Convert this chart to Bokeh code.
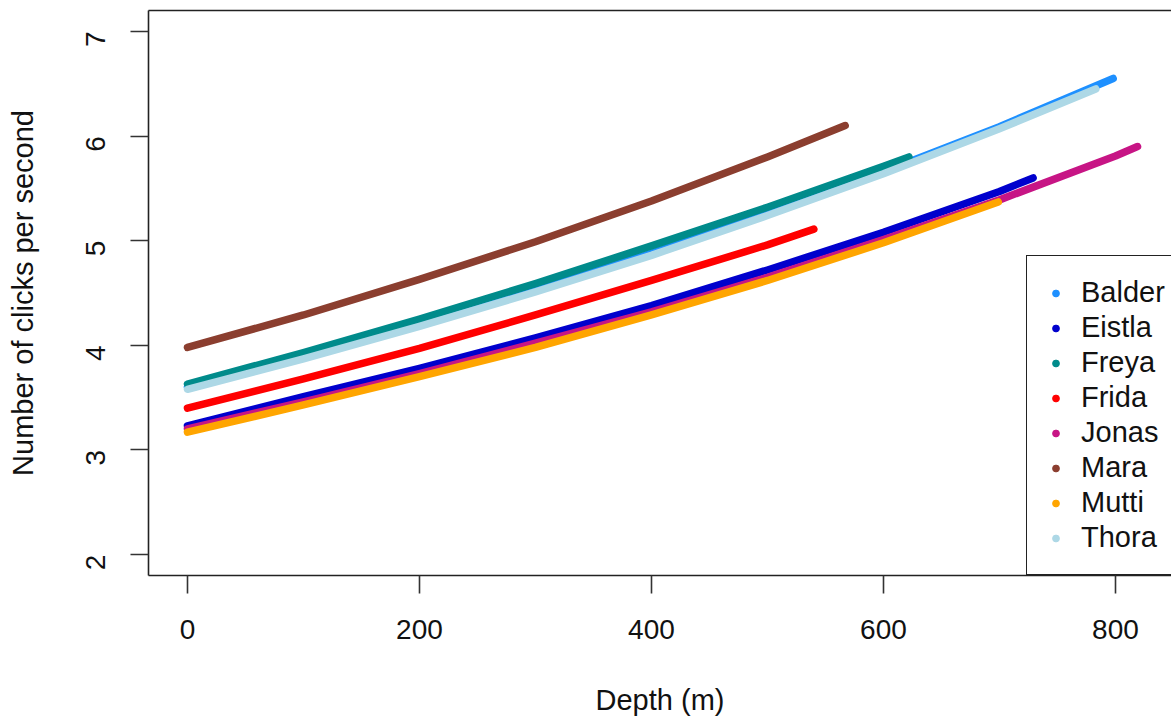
import math
from bokeh.plotting import figure
from bokeh.models import (ColumnDataSource, Legend, LegendItem, LinearAxis,
                          FixedTicker, Range1d)
from bokeh.embed import file_html
from bokeh.resources import INLINE

# ---- data ----
names = ["Balder", "Eistla", "Freya", "Frida", "Jonas", "Mara", "Mutti", "Thora"]
colors = ["#1E90FF", "#0000CD", "#008B8B", "#FF0000", "#C71585", "#8B3E2F", "#FFA500", "#ADD8E6"]

depth_balder = [0, 100, 200, 300, 400, 500, 600, 700, 798]
clicks_balder = [3.60, 3.89, 4.20, 4.53, 4.88, 5.26, 5.66, 6.09, 6.55]
depth_eistla = [0, 100, 200, 300, 400, 500, 600, 700, 729]
clicks_eistla = [3.23, 3.51, 3.78, 4.07, 4.38, 4.72, 5.08, 5.47, 5.60]
depth_freya = [0, 100, 200, 300, 400, 500, 600, 622]
clicks_freya = [3.63, 3.93, 4.25, 4.59, 4.95, 5.32, 5.71, 5.80]
depth_frida = [0, 100, 200, 300, 400, 500, 540]
clicks_frida = [3.40, 3.68, 3.97, 4.29, 4.62, 4.96, 5.11]
depth_jonas = [0, 100, 200, 300, 400, 500, 600, 700, 800, 819]
clicks_jonas = [3.20, 3.46, 3.73, 4.02, 4.32, 4.65, 5.01, 5.39, 5.81, 5.90]
depth_mara = [0, 100, 200, 300, 400, 500, 567]
clicks_mara = [3.98, 4.29, 4.63, 4.99, 5.38, 5.80, 6.10]
depth_mutti = [0, 100, 200, 300, 400, 500, 600, 699]
clicks_mutti = [3.17, 3.43, 3.70, 3.98, 4.29, 4.62, 4.98, 5.37]
depth_thora = [0, 100, 200, 300, 400, 500, 600, 700, 783]
clicks_thora = [3.58, 3.87, 4.18, 4.51, 4.86, 5.24, 5.64, 6.07, 6.45]

series_depths = [depth_balder, depth_eistla, depth_freya, depth_frida,
                 depth_jonas, depth_mara, depth_mutti, depth_thora]
series_clicks = [clicks_balder, clicks_eistla, clicks_freya, clicks_frida,
                 clicks_jonas, clicks_mara, clicks_mutti, clicks_thora]

x_ticks = [0, 200, 400, 600, 800]
y_ticks = [2, 3, 4, 5, 6, 7]

FONT = "Liberation Sans"
FS_TICK = "28px"
FS_TEXT = "29px"

p = figure(width=1171, height=719, output_backend="svg", toolbar_location=None,
           x_range=Range1d(-33.6, 848.3), y_range=Range1d(1.80, 7.20),
           min_border_left=148, min_border_right=0, min_border_top=10,
           min_border_bottom=144, x_axis_label="Depth (m)",
           y_axis_label="Number of clicks per second")
p.outline_line_color = None
p.grid.visible = False
p.background_fill_color = "white"
p.border_fill_color = "white"

for ax in (p.xaxis[0], p.yaxis[0]):
    ax.axis_line_color = "#222222"
    ax.axis_line_width = 1.6
    ax.major_tick_line_color = "#333333"
    ax.major_tick_line_width = 1.6
    ax.major_tick_in = 0
    ax.major_tick_out = 18
    ax.minor_tick_line_color = None
    ax.major_label_text_font = FONT
    ax.major_label_text_font_size = FS_TICK
    ax.major_label_text_color = "#111111"
    ax.axis_label_text_font = FONT
    ax.axis_label_text_font_size = FS_TEXT
    ax.axis_label_text_font_style = "normal"
    ax.axis_label_text_color = "#111111"

p.xaxis[0].ticker = FixedTicker(ticks=x_ticks)
p.yaxis[0].ticker = FixedTicker(ticks=y_ticks)
p.xaxis[0].major_label_standoff = 26
p.xaxis[0].axis_label_standoff = 42
p.yaxis[0].major_label_orientation = math.pi / 2
p.yaxis[0].major_label_standoff = 35
p.yaxis[0].axis_label_standoff = 35

top = LinearAxis(ticker=FixedTicker(ticks=[]), axis_line_color="#222222",
                 axis_line_width=1.6, major_tick_line_color=None,
                 minor_tick_line_color=None, major_label_text_alpha=0,
                 major_label_text_font_size="1px")
p.add_layout(top, "above")

items = []
for name, col, dx, cy in zip(names, colors, series_depths, series_clicks):
    src = ColumnDataSource(dict(depth=dx, clicks=cy))
    p.line("depth", "clicks", source=src, line_color=col, line_width=7.5,
           line_cap="round", line_join="round")
    dot = p.scatter(x=[float("nan")], y=[float("nan")], marker="circle", size=7,
                    fill_color=col, line_color=col)
    items.append(LegendItem(label=name, renderers=[dot]))

legend = Legend(items=items, location=(878, 0), padding=20, spacing=2,
                glyph_width=17, glyph_height=28, label_height=28,
                label_width=200, label_standoff=17,
                label_text_font=FONT, label_text_font_size=FS_TEXT,
                label_text_color="#111111",
                border_line_color="#222222", border_line_width=1.6,
                border_line_alpha=1.0,
                background_fill_color="white", background_fill_alpha=1.0,
                margin=0)
p.add_layout(legend, "center")

open("out.html", "w").write(file_html(p, INLINE))
